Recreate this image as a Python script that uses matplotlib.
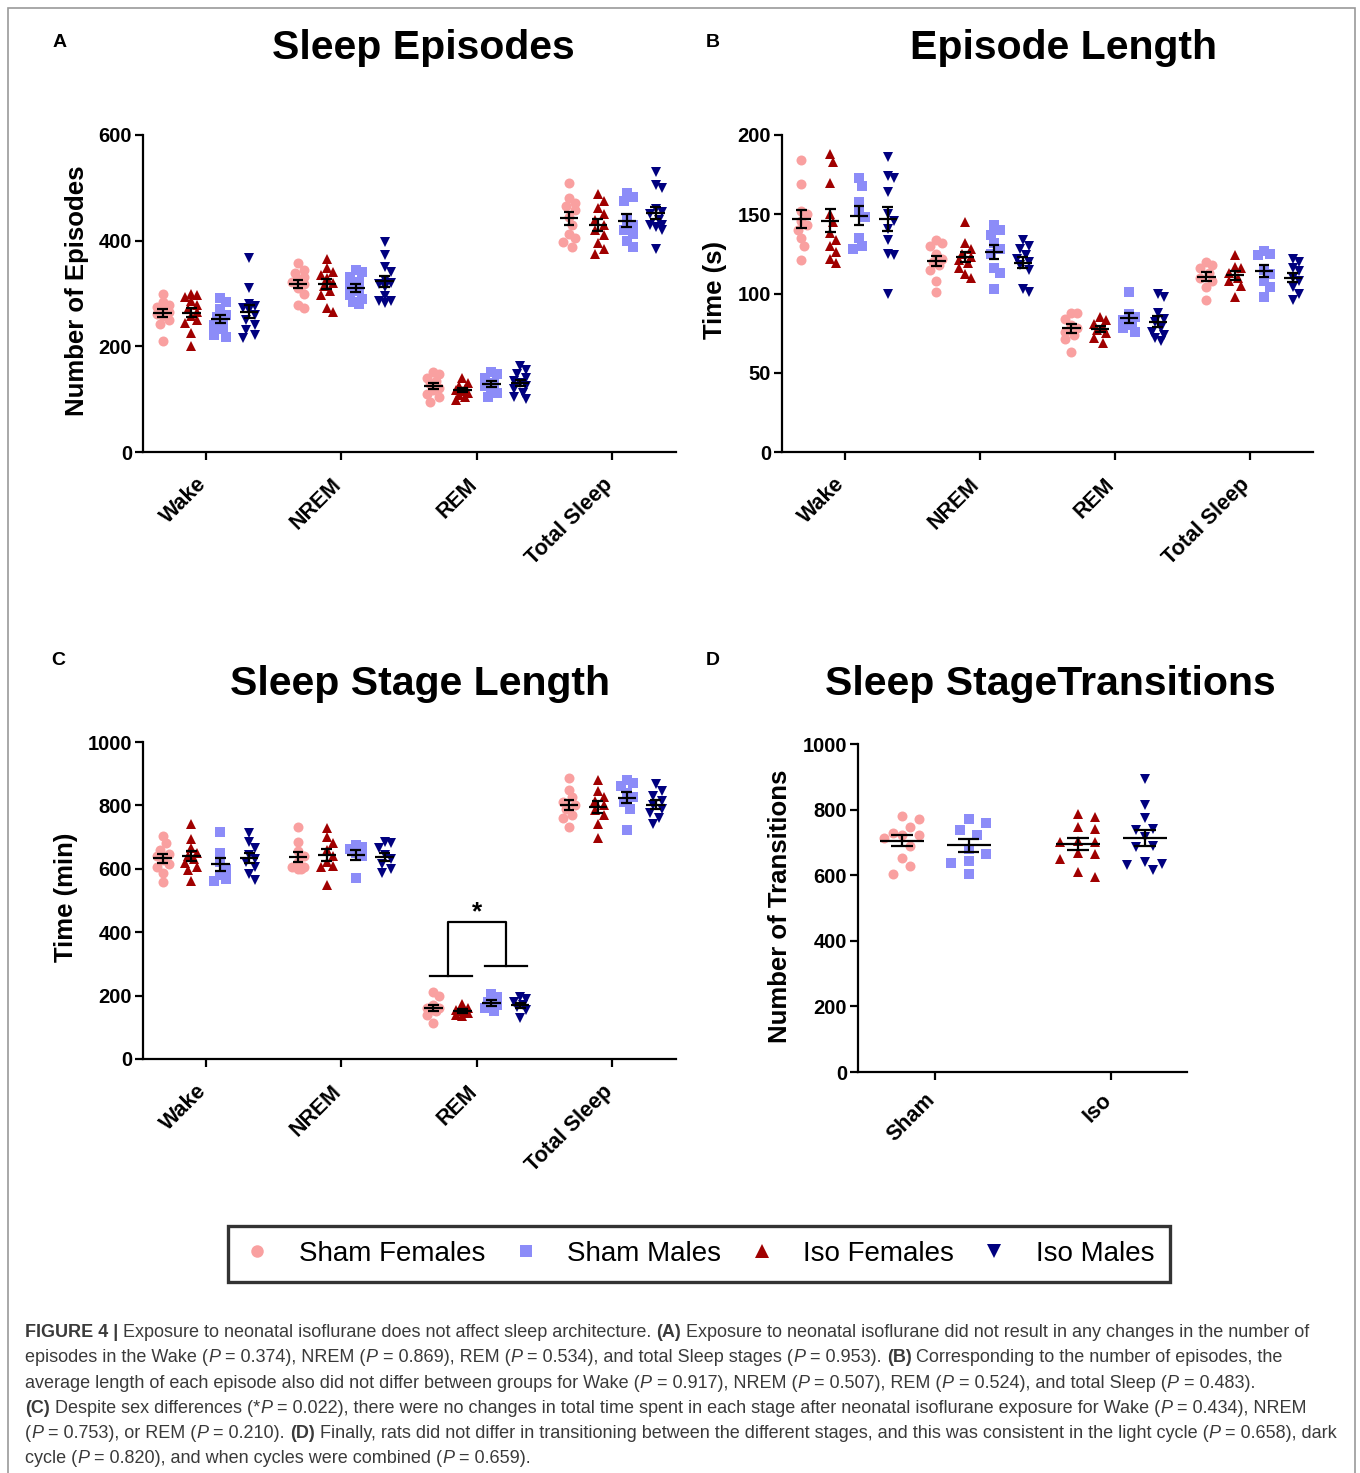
import re
import numpy as np
import matplotlib
matplotlib.use('Agg')
import matplotlib.pyplot as plt
from matplotlib.lines import Line2D
from matplotlib.patches import Rectangle
from matplotlib.transforms import ScaledTranslation
from matplotlib import font_manager

# ---------------- data ----------------
stages = ['Wake', 'NREM', 'REM', 'Total Sleep']
groups = ['Sham Females', 'Iso Females', 'Sham Males', 'Iso Males']
legend_order = ['Sham Females', 'Sham Males', 'Iso Females', 'Iso Males']
d_categories = ['Sham', 'Iso']

# Panel A: number of episodes (per stage: Wake, NREM, REM, Total Sleep)
episodes_sham_f = [[300, 283, 278, 275, 270, 265, 262, 258, 250, 243, 211],
                   [358, 345, 338, 332, 328, 322, 318, 310, 300, 278, 272],
                   [152, 148, 140, 135, 128, 122, 118, 110, 105, 95],
                   [510, 480, 472, 465, 458, 445, 430, 412, 405, 398, 388]]
episodes_iso_f = [[300, 297, 293, 285, 278, 270, 265, 258, 250, 245, 225, 201],
                  [365, 348, 340, 335, 330, 320, 315, 305, 298, 272, 265],
                  [140, 130, 125, 120, 117, 115, 112, 108, 105, 98],
                  [488, 475, 462, 450, 440, 430, 420, 410, 395, 385, 375]]
episodes_sham_m = [[292, 284, 270, 260, 255, 248, 240, 232, 222, 218],
                   [345, 340, 332, 322, 312, 305, 298, 290, 283, 280],
                   [152, 148, 140, 130, 125, 120, 112, 105],
                   [490, 482, 475, 440, 430, 420, 412, 400, 388]]
episodes_iso_m = [[368, 310, 280, 276, 272, 268, 260, 250, 240, 230, 222, 215],
                  [398, 372, 350, 340, 325, 318, 320, 312, 295, 285, 285, 282],
                  [163, 155, 148, 140, 135, 130, 125, 120, 112, 105, 100],
                  [530, 505, 500, 460, 455, 450, 440, 430, 430, 425, 420, 385]]

# Panel B: episode length (s)
length_sham_f = [[184, 169, 152, 150, 146, 143, 140, 135, 130, 121],
                 [134, 132, 130, 125, 122, 120, 118, 115, 108, 101],
                 [88, 88, 84, 80, 78, 76, 74, 71, 63],
                 [120, 118, 116, 113, 110, 108, 104, 96]]
length_iso_f = [[188, 183, 170, 150, 145, 138, 134, 130, 126, 122, 119],
                [145, 132, 128, 125, 123, 121, 119, 116, 112, 110],
                [85, 83, 81, 79, 77, 75, 72, 69],
                [124, 117, 116, 113, 110, 108, 105, 98]]
length_sham_m = [[173, 168, 158, 152, 148, 135, 130, 128],
                 [143, 140, 137, 132, 128, 125, 116, 113, 103],
                 [101, 87, 85, 83, 80, 78, 76],
                 [127, 125, 124, 115, 112, 108, 104, 98]]
length_iso_m = [[186, 174, 173, 164, 150, 146, 141, 134, 125, 124, 100],
                [134, 130, 128, 124, 122, 120, 118, 115, 103, 101],
                [100, 98, 88, 84, 82, 78, 76, 74, 72, 70],
                [122, 120, 116, 114, 110, 108, 104, 100, 96]]

# Panel C: stage length (min)
stage_sham_f = [[705, 680, 660, 648, 640, 628, 615, 605, 588, 558],
                [732, 685, 655, 640, 620, 605, 605, 600, 598],
                [210, 200, 170, 160, 160, 155, 150, 140, 115],
                [885, 850, 825, 810, 800, 790, 770, 760, 732]]
stage_iso_f = [[740, 695, 665, 650, 640, 630, 618, 605, 595, 560],
               [728, 700, 680, 660, 640, 620, 610, 605, 548],
               [175, 160, 155, 150, 145, 140, 135],
               [880, 845, 825, 815, 800, 785, 770, 740, 697]]
stage_sham_m = [[717, 650, 620, 600, 580, 568, 560],
                [675, 670, 662, 650, 640, 570],
                [205, 195, 180, 170, 160, 150],
                [880, 870, 860, 840, 825, 810, 790, 722]]
stage_iso_m = [[712, 685, 665, 645, 630, 620, 605, 585, 565],
               [685, 680, 665, 645, 630, 615, 600, 588],
               [195, 190, 180, 170, 165, 155, 130],
               [868, 845, 830, 815, 800, 790, 775, 760, 740]]

# Panel D: number of transitions
trans_sham_f = [780, 772, 748, 728, 722, 722, 712, 690, 652, 627, 605]
trans_sham_m = [772, 760, 738, 722, 680, 665, 642, 638, 605]
trans_iso_f = [788, 778, 746, 742, 705, 702, 700, 668, 665, 650, 610, 595]
trans_iso_m = [892, 815, 775, 740, 738, 715, 688, 685, 640, 635, 630, 615]

panel_a = dict(zip(groups, [episodes_sham_f, episodes_iso_f, episodes_sham_m, episodes_iso_m]))
panel_b = dict(zip(groups, [length_sham_f, length_iso_f, length_sham_m, length_iso_m]))
panel_c = dict(zip(groups, [stage_sham_f, stage_iso_f, stage_sham_m, stage_iso_m]))
panel_d = {'Sham Females': trans_sham_f, 'Sham Males': trans_sham_m,
           'Iso Females': trans_iso_f, 'Iso Males': trans_iso_m}

# ---------------- style ----------------
colors = {'Sham Females': '#F9A0A0', 'Iso Females': '#A00000',
          'Sham Males': '#8C8CF8', 'Iso Males': '#00007F'}
markers = {'Sham Females': 'o', 'Iso Females': '^', 'Sham Males': 's', 'Iso Males': 'v'}
msizes = {'Sham Females': 7.2, 'Iso Females': 7.6, 'Sham Males': 6.6, 'Iso Males': 7.6}

plt.rcParams['font.family'] = ['Liberation Sans', 'DejaVu Sans']
W, H = 1360, 1473
fig = plt.figure(figsize=(W / 100, H / 100), dpi=100)
renderer = fig.canvas.get_renderer()


def px_axes(left, top, right, bottom):
    return fig.add_axes([left / W, 1 - bottom / H, (right - left) / W, (bottom - top) / H])


def style_axes(ax, yticks, ylim, xlim, xticks, xlabels, xpad):
    ax.set_xlim(*xlim)
    ax.set_ylim(*ylim)
    ax.set_yticks(yticks)
    ax.set_xticks(xticks)
    ax.set_xticklabels(xlabels, rotation=45, ha='right', va='center',
                       rotation_mode='anchor', fontsize=15.5, fontweight='bold')
    for lab in ax.get_yticklabels():
        lab.set_fontweight('bold')
        lab.set_fontsize(14.5)
    for s in ['top', 'right']:
        ax.spines[s].set_visible(False)
    for s in ['left', 'bottom']:
        ax.spines[s].set_linewidth(1.6)
    ax.tick_params(axis='both', direction='out', length=6, width=1.6, color='black')
    ax.tick_params(axis='y', pad=2)
    ax.tick_params(axis='x', pad=xpad)
    off = ScaledTranslation(-3 / 100, 0, fig.dpi_scale_trans)
    for lab in ax.get_xticklabels():
        lab.set_transform(lab.get_transform() + off)
    ax.patch.set_alpha(0)


def swarm(values, sx, sy, dmin, step, maxoff):
    vals = np.asarray(values, float)
    order = np.argsort(-vals)
    placed = []
    offs = np.zeros(len(vals))
    cands = [0.0]
    j = 1
    while j * step <= maxoff + 1e-9:
        cands += [j * step, -j * step]
        j += 1
    for i in order:
        y = vals[i] * sy
        best_c, best_d = cands[0], -1.0
        for c in cands:
            dmin_here = min([np.hypot(c - px, y - py) for px, py in placed] + [1e9])
            if dmin_here >= dmin:
                best_c = c
                break
            if dmin_here > best_d:
                best_c, best_d = c, dmin_here
        placed.append((best_c, y))
        offs[i] = best_c / sx
    return offs


def draw_group(ax, xc, vals, g, dmin, step, maxoff, mean_hw, cap_hw):
    bb = ax.get_window_extent(renderer)
    x0, x1 = ax.get_xlim()
    y0, y1 = ax.get_ylim()
    sx = bb.width / (x1 - x0)
    sy = bb.height / (y1 - y0)
    offs = swarm(vals, sx, sy, dmin, step, maxoff)
    ax.plot(xc + offs, vals, linestyle='none', marker=markers[g], color=colors[g],
            markersize=msizes[g], markeredgewidth=0, clip_on=False, zorder=2)
    v = np.asarray(vals, float)
    m = v.mean()
    sem = v.std(ddof=1) / np.sqrt(len(v))
    ax.hlines(m, xc - mean_hw, xc + mean_hw, color='black', lw=1.6, zorder=4)
    ax.vlines(xc, m - sem, m + sem, color='black', lw=1.6, zorder=4)
    ax.hlines([m - sem, m + sem], xc - cap_hw, xc + cap_hw, color='black', lw=1.6, zorder=4)


group_offsets = dict(zip(groups, [-0.32, -0.107, 0.107, 0.32]))


def stage_panel(ax, data, yticks, ylim):
    style_axes(ax, yticks, ylim, (-0.464, 3.47), range(4), stages, 15)
    for g in groups:
        for i, vals in enumerate(data[g]):
            draw_group(ax, i + group_offsets[g], vals, g, dmin=8.0, step=3.0, maxoff=6.0,
                       mean_hw=0.068, cap_hw=0.04)


# Panel A
axA = px_axes(143, 135, 676, 452)
stage_panel(axA, panel_a, [0, 200, 400, 600], (0, 600))
# Panel B
axB = px_axes(782, 135, 1313, 452)
stage_panel(axB, panel_b, [0, 50, 100, 150, 200], (0, 200))
# Panel C
axC = px_axes(143, 742, 676, 1059)
stage_panel(axC, panel_c, [0, 200, 400, 600, 800, 1000], (0, 1000))

# significance bracket in C (REM, females vs males)
xr = 2
axC.plot([xr - 0.347, xr - 0.037], [263, 263], color='black', lw=1.6)
axC.plot([xr + 0.058, xr + 0.369], [294, 294], color='black', lw=1.6)
axC.plot([xr - 0.21, xr - 0.21, xr + 0.215, xr + 0.215], [263, 431, 431, 294],
         color='black', lw=1.6)
axC.text(xr, 425, '*', ha='center', va='bottom', fontsize=19, fontweight='bold')

# Panel D
axD = px_axes(858, 744, 1187, 1072)
style_axes(axD, [0, 200, 400, 600, 800, 1000], (0, 1000), (-0.4375, 1.43), [0, 1],
           d_categories, 12)
d_pos = {'Sham Females': -0.19, 'Sham Males': 0.19, 'Iso Females': 0.81, 'Iso Males': 1.19}
for g in legend_order:
    draw_group(axD, d_pos[g], panel_d[g], g, dmin=11.5, step=8.7, maxoff=18.0,
               mean_hw=0.125, cap_hw=0.062)

# ---------------- texts ----------------
def ftext(x, y, s, **kw):
    return fig.text(x / W, 1 - y / H, s, **kw)


ftext(423, 59, 'Sleep Episodes', ha='center', va='baseline', fontsize=29.5, fontweight='bold')
ftext(1063, 59, 'Episode Length', ha='center', va='baseline', fontsize=29.5, fontweight='bold')
ftext(420, 695, 'Sleep Stage Length', ha='center', va='baseline', fontsize=29.5, fontweight='bold')
ftext(1050, 695, 'Sleep StageTransitions', ha='center', va='baseline', fontsize=29.5, fontweight='bold')

for lx, ly, L in [(60, 47, 'A'), (713, 47, 'B'), (58, 665, 'C'), (713, 665, 'D')]:
    ftext(lx, ly, L, ha='center', va='baseline', fontsize=14, fontweight='bold')

ftext(77, 291, 'Number of Episodes', rotation=90, ha='center', va='center', fontsize=18.5, fontweight='bold')
ftext(715, 290, 'Time (s)', rotation=90, ha='center', va='center', fontsize=18.5, fontweight='bold')
ftext(66, 897, 'Time (min)', rotation=90, ha='center', va='center', fontsize=18.5, fontweight='bold')
ftext(780, 906, 'Number of Transitions', rotation=90, ha='center', va='center', fontsize=18.5, fontweight='bold')

# legend
handles = [Line2D([], [], linestyle='none', marker=markers[g], color=colors[g],
                  markersize=msizes[g] * 1.25, markeredgewidth=0, label=g) for g in legend_order]
leg = fig.legend(handles=handles, loc='center', bbox_to_anchor=(699 / W, 1 - 1254 / H),
                 ncol=4, fontsize=20, frameon=True, fancybox=False, edgecolor='black',
                 handlelength=1.0, handletextpad=1.0, columnspacing=0.95, borderpad=0.55,
                 borderaxespad=0)
leg.get_frame().set_linewidth(2.4)

# border frame
fig.add_artist(Rectangle((8 / W, -0.01), (1355 - 8) / W, 1 - 8 / H + 0.01,
                         transform=fig.transFigure, fill=False, edgecolor='#9a9a9a', lw=1.2))

# ---------------- caption ----------------
cap_lines = [
    "<b>FIGURE 4 |</b> Exposure to neonatal isoflurane does not affect sleep architecture. <b>(A)</b> Exposure to neonatal isoflurane did not result in any changes in the number of",
    "episodes in the Wake (<i>P</i> = 0.374), NREM (<i>P</i> = 0.869), REM (<i>P</i> = 0.534), and total Sleep stages (<i>P</i> = 0.953). <b>(B)</b> Corresponding to the number of episodes, the",
    "average length of each episode also did not differ between groups for Wake (<i>P</i> = 0.917), NREM (<i>P</i> = 0.507), REM (<i>P</i> = 0.524), and total Sleep (<i>P</i> = 0.483).",
    "<b>(C)</b> Despite sex differences (*<i>P</i> = 0.022), there were no changes in total time spent in each stage after neonatal isoflurane exposure for Wake (<i>P</i> = 0.434), NREM",
    "(<i>P</i> = 0.753), or REM (<i>P</i> = 0.210). <b>(D)</b> Finally, rats did not differ in transitioning between the different stages, and this was consistent in the light cycle (<i>P</i> = 0.658), dark",
    "cycle (<i>P</i> = 0.820), and when cycles were combined (<i>P</i> = 0.659).",
]
cap_baselines = [1337, 1362.5, 1388, 1413, 1438, 1463]

names = {f.name for f in font_manager.fontManager.ttflist}
cap_family = ['Liberation Sans Narrow', 'DejaVu Sans'] if 'Liberation Sans Narrow' in names \
    else ['Liberation Sans', 'DejaVu Sans']
CAPCOL = '#3a3a3a'


def parse(line):
    segs = []
    for part in re.split(r'(<b>.*?</b>|<i>.*?</i>)', line):
        if not part:
            continue
        if part.startswith('<b>'):
            segs.append((part[3:-4], 'bold', 'normal'))
        elif part.startswith('<i>'):
            segs.append((part[3:-4], 'normal', 'italic'))
        else:
            segs.append((part, 'normal', 'normal'))
    return segs


def seg_width(s, weight, style, size):
    t1 = fig.text(0, 0, '|' + s + '|', fontsize=size, fontweight=weight, fontstyle=style, family=cap_family)
    t2 = fig.text(0, 0, '||', fontsize=size, fontweight=weight, fontstyle=style, family=cap_family)
    w = t1.get_window_extent(renderer).width - t2.get_window_extent(renderer).width
    t1.remove()
    t2.remove()
    return w


base = 12.0
w1 = sum(seg_width(s, wt, st, base) for s, wt, st in parse(cap_lines[0]))
cap_size = base * 1288.0 / w1

for line, yb in zip(cap_lines, cap_baselines):
    x = 25.0
    for s, wt, st in parse(line):
        ftext(x, yb, s, ha='left', va='baseline', fontsize=cap_size, fontweight=wt,
              fontstyle=st, family=cap_family, color=CAPCOL)
        x += seg_width(s, wt, st, cap_size)

fig.savefig('out.png', dpi=100)
